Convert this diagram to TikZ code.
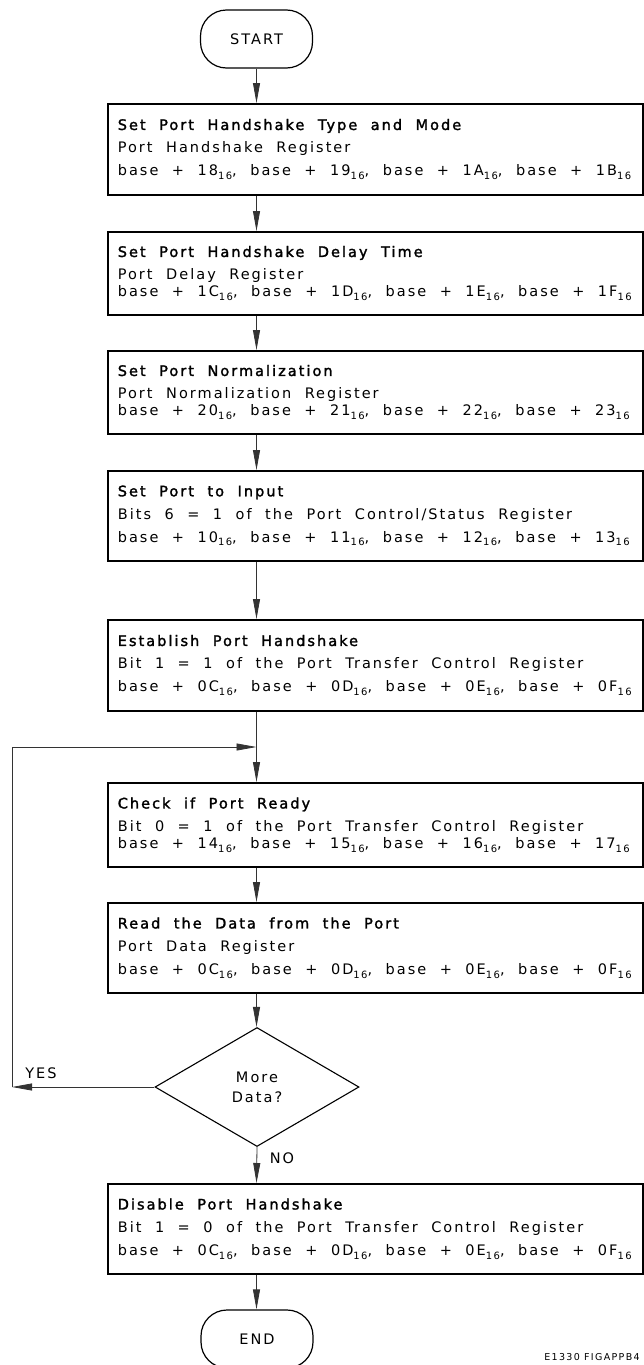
\documentclass[tikz,border=0pt]{standalone}
\usepackage{fontspec}
\newfontfamily\cadfont[LetterSpace=14]{DejaVu Sans}
\newfontfamily\cadbold[LetterSpace=14,FakeBold=1.8]{DejaVu Sans}
\usetikzlibrary{shapes.geometric,arrows.meta}
\newcommand{\hx}[1]{\raisebox{-0.45ex}{\fontsize{10}{10}\selectfont #1}}
\begin{document}
\begin{tikzpicture}[x=1pt, y=-1pt, >={Triangle[length=20pt,width=7pt]},
    procbox/.style={draw, line width=1.6pt, anchor=north west, minimum width=535pt,
      text width=515pt, inner xsep=10pt, inner ysep=0pt, align=left,
      font=\cadfont\fontsize{14.5}{23}\selectfont,
      execute at begin node={\spaceskip=13.5pt plus 1pt minus 1pt\relax}},
    termbox/.style={draw, line width=1.2pt, rounded corners=26pt, minimum width=112pt,
      minimum height=58pt, font=\cadfont\fontsize{14.5}{16}\selectfont},
    flow/.style={->, line width=0.8pt, black!80}]
    \useasboundingbox (0,0) rectangle (643,1365);

    % terminals
    \node[termbox] (start) at (256.5,39) {START};
    \node[termbox] (end) at (257,1339) {END};

    % process boxes
    \node[procbox, minimum height=91pt] (hstype) at (107,103)
      {{\cadbold Set Port Handshake Type and Mode}\\
       Port Handshake Register\\
       base + 18\hx{16}, base + 19\hx{16}, base + 1A\hx{16}, base + 1B\hx{16}};
    \node[procbox, minimum height=83pt] (hsdelay) at (107,231)
      {{\cadbold Set Port Handshake Delay Time}\\
       Port Delay Register\\[-6pt]
       base + 1C\hx{16}, base + 1D\hx{16}, base + 1E\hx{16}, base + 1F\hx{16}};
    \node[procbox, minimum height=83pt] (norm) at (107,350)
      {{\cadbold Set Port Normalization}\\
       Port Normalization Register\\[-6pt]
       base + 20\hx{16}, base + 21\hx{16}, base + 22\hx{16}, base + 23\hx{16}};
    \node[procbox, minimum height=90pt] (input) at (107,470)
      {{\cadbold Set Port to Input}\\
       Bits 6 = 1 of the Port Control/Status Register\\
       base + 10\hx{16}, base + 11\hx{16}, base + 12\hx{16}, base + 13\hx{16}};
    \node[procbox, minimum height=91pt] (estab) at (107,619)
      {{\cadbold Establish Port Handshake}\\
       Bit 1 = 1 of the Port Transfer Control Register\\
       base + 0C\hx{16}, base + 0D\hx{16}, base + 0E\hx{16}, base + 0F\hx{16}};
    \node[procbox, minimum height=84pt] (check) at (107,782)
      {{\cadbold Check if Port Ready}\\
       Bit 0 = 1 of the Port Transfer Control Register\\[-6pt]
       base + 14\hx{16}, base + 15\hx{16}, base + 16\hx{16}, base + 17\hx{16}};
    \node[procbox, minimum height=90pt] (readdata) at (107,902)
      {{\cadbold Read the Data from the Port}\\
       Port Data Register\\
       base + 0C\hx{16}, base + 0D\hx{16}, base + 0E\hx{16}, base + 0F\hx{16}};
    \node[procbox, minimum height=90pt] (disable) at (107,1183)
      {{\cadbold Disable Port Handshake}\\
       Bit 1 = 0 of the Port Transfer Control Register\\
       base + 0C\hx{16}, base + 0D\hx{16}, base + 0E\hx{16}, base + 0F\hx{16}};

    % decision
    \node[draw, diamond, aspect=1.71, minimum width=204pt, minimum height=119pt,
      inner sep=0pt, line width=1.1pt, align=center,
      font=\cadfont\fontsize{14.5}{20}\selectfont] (moredata) at (257,1087) {More\\Data?};

    % main flow
    \draw[flow] (start) -- (start |- hstype.north);
    \foreach \a/\b in {hstype/hsdelay, hsdelay/norm, norm/input, input/estab,
      estab/check, check/readdata, readdata/moredata, disable/end}
      \draw[flow] (\a.south -| start) -- (start |- \b.north);
    \draw[flow] (moredata.south) -- (start |- disable.north);

    % loop back
    \coordinate (yesend) at (12,1087);
    \coordinate (loopin) at (12,747);
    \draw[flow] (moredata.west) -- (yesend);
    \draw[line width=0.8pt, black!80] (yesend) -- (loopin);
    \draw[flow] (loopin) -- (loopin -| start);

    \node[font=\cadfont\fontsize{14.5}{16}\selectfont] (yes) at (41,1073) {YES};
    \node[font=\cadfont\fontsize{14.5}{16}\selectfont] (no) at (282,1158) {NO};
    \node[font=\cadfont\fontsize{9.5}{10}\selectfont] (figid) at (592,1357) {E1330 FIGAPPB4};
\end{tikzpicture}
\end{document}
